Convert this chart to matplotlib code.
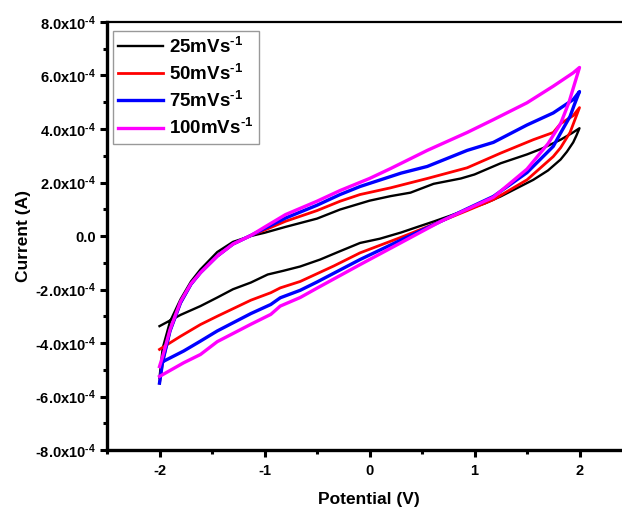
import matplotlib
matplotlib.use("Agg")
import matplotlib.pyplot as plt
import numpy as np

plt.rcParams['font.family'] = ['Liberation Sans', 'DejaVu Sans']
plt.rcParams['font.weight'] = 'bold'
plt.rcParams['mathtext.fontset'] = 'custom'
plt.rcParams['mathtext.rm'] = 'Liberation Sans:bold'
plt.rcParams['mathtext.bf'] = 'Liberation Sans:bold'
plt.rcParams['mathtext.default'] = 'rm'

SCALE = 1e-4
H = "\u2010"
labels = ["25mVs$^{" + H + "1}$", "50mVs$^{" + H + "1}$", "75mVs$^{" + H + "1}$", "100mVs$^{" + H + "1}$"]
colors = ["#000000", "#ff0000", "#0000ff", "#ff00ff"]
widths = [1.7, 2.0, 2.4, 2.4]

# Each loop: forward (anodic) branch from -2 V to +2 V, then reverse branch back.
# Currents in units of 1e-4 A
fwd_25_v = [-2.0, -1.97, -1.9, -1.8, -1.7, -1.61, -1.45, -1.3, -1.13, -1.0, -0.8, -0.5, -0.28, 0.0, 0.2, 0.39, 0.61, 0.87, 1.0, 1.25, 1.5, 1.65, 1.82, 1.93, 2.0]
fwd_25_i = [-5.3, -4.2, -3.2, -2.37, -1.7, -1.25, -0.6, -0.22, 0.0, 0.12, 0.34, 0.65, 0.99, 1.32, 1.49, 1.62, 1.95, 2.15, 2.3, 2.72, 3.05, 3.28, 3.6, 3.85, 4.03]
rev_25_v = [2.0, 1.97, 1.94, 1.88, 1.82, 1.7, 1.56, 1.4, 1.25, 1.1, 0.93, 0.77, 0.61, 0.45, 0.3, 0.1, -0.09, -0.3, -0.47, -0.66, -0.82, -0.97, -1.13, -1.3, -1.45, -1.61, -1.8, -2.0]
rev_25_i = [4.03, 3.75, 3.5, 3.15, 2.86, 2.45, 2.1, 1.78, 1.48, 1.22, 0.99, 0.76, 0.54, 0.33, 0.13, -0.1, -0.26, -0.6, -0.88, -1.14, -1.3, -1.44, -1.74, -1.99, -2.3, -2.62, -2.95, -3.37]

fwd_50_v = [-2.0, -1.97, -1.9, -1.8, -1.7, -1.61, -1.45, -1.3, -1.13, -1.0, -0.8, -0.5, -0.28, -0.09, 0.2, 0.55, 0.93, 1.25, 1.56, 1.75, 1.82, 1.94, 2.0]
fwd_50_i = [-5.5, -4.7, -3.55, -2.5, -1.8, -1.37, -0.75, -0.3, 0.02, 0.22, 0.55, 0.95, 1.3, 1.55, 1.8, 2.15, 2.55, 3.1, 3.6, 3.87, 4.2, 4.5, 4.8]
rev_50_v = [2.0, 1.91, 1.82, 1.75, 1.5, 1.18, 0.93, 0.68, 0.3, -0.09, -0.34, -0.66, -0.85, -0.94, -1.13, -1.45, -1.61, -1.8, -2.0]
rev_50_i = [4.8, 3.87, 3.3, 2.97, 2.1, 1.36, 0.95, 0.55, -0.05, -0.63, -1.12, -1.7, -1.94, -2.12, -2.4, -3.0, -3.31, -3.75, -4.24]

fwd_75_v = [-2.0, -1.97, -1.9, -1.8, -1.7, -1.61, -1.45, -1.3, -1.13, -1.0, -0.8, -0.5, -0.28, -0.09, 0.3, 0.55, 0.93, 1.18, 1.5, 1.75, 1.94, 2.0]
fwd_75_i = [-5.5, -4.7, -3.55, -2.5, -1.8, -1.37, -0.75, -0.3, 0.02, 0.28, 0.67, 1.15, 1.55, 1.85, 2.35, 2.6, 3.2, 3.5, 4.15, 4.6, 5.1, 5.4]
rev_75_v = [2.0, 1.95, 1.91, 1.82, 1.75, 1.5, 1.18, 0.93, 0.68, 0.3, -0.09, -0.5, -0.66, -0.85, -0.94, -1.13, -1.45, -1.61, -1.77, -1.97]
rev_75_i = [5.4, 4.9, 4.47, 3.85, 3.35, 2.37, 1.48, 1.02, 0.55, -0.15, -0.88, -1.72, -2.03, -2.31, -2.56, -2.9, -3.55, -3.93, -4.3, -4.7]

fwd_100_v = [-2.0, -1.97, -1.9, -1.8, -1.7, -1.61, -1.45, -1.3, -1.13, -1.0, -0.8, -0.5, -0.28, 0.0, 0.2, 0.55, 0.93, 1.18, 1.5, 1.75, 1.94, 2.0]
fwd_100_i = [-4.88, -4.5, -3.5, -2.45, -1.78, -1.37, -0.75, -0.3, 0.02, 0.33, 0.8, 1.3, 1.7, 2.15, 2.52, 3.2, 3.87, 4.35, 4.98, 5.6, 6.1, 6.3]
rev_100_v = [2.0, 1.9, 1.82, 1.7, 1.5, 1.18, 0.93, 0.68, 0.3, -0.09, -0.5, -0.66, -0.85, -0.94, -1.13, -1.45, -1.61, -1.77, -2.0]
rev_100_i = [6.3, 5.0, 4.2, 3.45, 2.5, 1.45, 1.0, 0.55, -0.25, -1.07, -1.95, -2.3, -2.62, -2.93, -3.3, -3.95, -4.43, -4.74, -5.25]

series = [
    (fwd_25_v, fwd_25_i, rev_25_v, rev_25_i),
    (fwd_50_v, fwd_50_i, rev_50_v, rev_50_i),
    (fwd_75_v, fwd_75_i, rev_75_v, rev_75_i),
    (fwd_100_v, fwd_100_i, rev_100_v, rev_100_i),
]

ytick_vals = [-8, -6, -4, -2, 0, 2, 4, 6, 8]
ytick_labels = ["-8.0x10$^{" + H + "4}$", "-6.0x10$^{" + H + "4}$", "-4.0x10$^{" + H + "4}$",
                "-2.0x10$^{" + H + "4}$", "0.0",
                "2.0x10$^{" + H + "4}$", "4.0x10$^{" + H + "4}$", "6.0x10$^{" + H + "4}$", "8.0x10$^{" + H + "4}$"]
xtick_vals = [-2, -1, 0, 1, 2]
xtick_labels = ["-2", "-1", "0", "1", "2"]

fig = plt.figure(figsize=(6.22, 5.12), dpi=100)
ax = fig.add_axes([107/622, 62/512, (632-107)/622, 428/512])

for (fv, fi, rv, ri), lab, c, lw in zip(series, labels, colors, widths):
    v = np.array(fv + rv)
    i = np.array(fi + ri) * SCALE
    ax.plot(v, i, color=c, lw=lw, label=lab, solid_joinstyle='round')

ax.set_xlim(-2.5, 2.5)
ax.set_ylim(-8e-4, 8e-4)
ax.set_xticks(xtick_vals)
ax.set_xticklabels(xtick_labels)
ax.set_xticks([-2.5, -1.5, -0.5, 0.5, 1.5], minor=True)
ax.set_yticks([t * SCALE for t in ytick_vals])
ax.set_yticklabels(ytick_labels)
ax.set_yticks([t * SCALE for t in [-7, -5, -3, -1, 1, 3, 5, 7]], minor=True)

for s in ['left', 'bottom']:
    ax.spines[s].set_linewidth(2.4)
ax.spines['top'].set_linewidth(1.6)
ax.spines['right'].set_visible(False)

ax.tick_params(axis='both', which='major', direction='out', length=5, width=2.2, labelsize=10.5, pad=3)
ax.tick_params(axis='x', which='major', pad=5)
ax.tick_params(axis='both', which='minor', direction='out', length=3, width=2.2)
for lbl in ax.get_xticklabels() + ax.get_yticklabels():
    lbl.set_fontweight('bold')

ax.set_xlabel("Potential (V)", fontsize=12.5, fontweight='bold')
ax.set_ylabel("Current (A)", fontsize=12.5, fontweight='bold')
ax.xaxis.set_label_coords((369 - 107) / 525, -(492 - 450) / 428)
ax.yaxis.set_label_coords((31 - 107) / 525, 0.5)

leg = ax.legend(loc='upper left', bbox_to_anchor=(0.004, 0.988), fontsize=13.5, frameon=True,
                fancybox=False, edgecolor='#808080', handlelength=2.4, handletextpad=0.3,
                labelspacing=0.38, borderpad=0.3, borderaxespad=0.2)
leg.get_frame().set_linewidth(1.0)
for t in leg.get_texts():
    t.set_fontweight('bold')

fig.savefig("out.png", dpi=100)
